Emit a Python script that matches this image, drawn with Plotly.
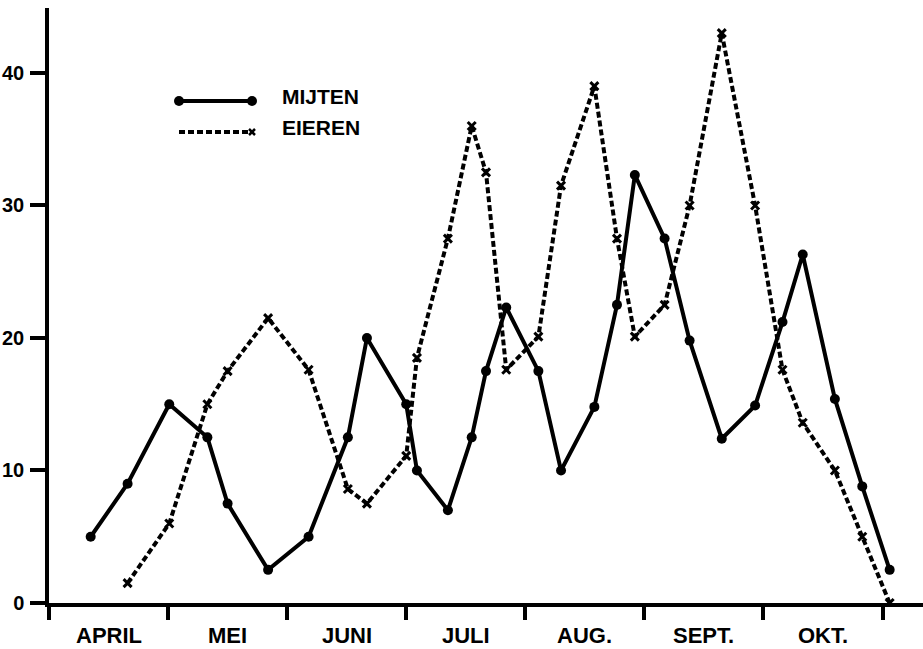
import plotly.graph_objects as go

# Sampling dates expressed in months after 1 April (April = 0..1, May = 1..2, ...)
sample_month = [0.35, 0.66, 1.01, 1.33, 1.50, 1.84, 2.18, 2.51, 2.67, 3.00,
                3.09, 3.35, 3.55, 3.67, 3.84, 4.11, 4.30, 4.58, 4.77, 4.92,
                5.17, 5.38, 5.65, 5.93, 6.16, 6.33, 6.60, 6.83, 7.06]

mijten = [5.0, 9.0, 15.0, 12.5, 7.5, 2.5, 5.0, 12.5, 20.0, 15.0,
          10.0, 7.0, 12.5, 17.5, 22.3, 17.5, 10.0, 14.8, 22.5, 32.3,
          27.5, 19.8, 12.4, 14.9, 21.2, 26.3, 15.4, 8.8, 2.5]

eieren = [None, 1.5, 6.0, 15.0, 17.5, 21.5, 17.6, 8.6, 7.5, 11.1,
          18.5, 27.5, 36.0, 32.5, 17.6, 20.1, 31.5, 39.0, 27.5, 20.1,
          22.5, 30.0, 43.0, 30.0, 17.6, 13.6, 10.0, 5.0, 0.0]

months = ["APRIL", "MEI", "JUNI", "JULI", "AUG.", "SEPT.", "OKT."]
month_bounds = [0, 1, 2, 3, 4, 5, 6, 7]
y_ticks = [0, 10, 20, 30, 40]

FONT = "Liberation Sans, Arial, sans-serif"
W, H = 923, 649
L, R, T, B = 49, 0, 8, 46

fig = go.Figure()

fig.add_trace(go.Scatter(
    x=sample_month, y=mijten, mode="lines+markers", name="MIJTEN",
    line=dict(color="black", width=4),
    marker=dict(symbol="circle", size=10, color="black"),
))

fig.add_trace(go.Scatter(
    x=sample_month, y=eieren, mode="lines+markers", name="EIEREN",
    line=dict(color="black", width=4, dash="6px,3px"),
    marker=dict(symbol="x-thin", size=8, line=dict(color="black", width=3)),
))

# month names centred between the month boundary ticks
for i, m in enumerate(months):
    fig.add_annotation(
        x=i + 0.5, y=0, xref="x", yref="paper", yshift=-32,
        text=m, showarrow=False, yanchor="middle", xanchor="center",
        font=dict(family=FONT, size=22, color="black", weight="bold"),
    )

# hand-drawn legend in the upper left
pw, ph = W - L - R, H - T - B


def px(xp):
    return (xp - L) / pw


def py(yp):
    return (H - B - yp) / ph


fig.add_shape(type="line", xref="paper", yref="paper",
              x0=px(179), x1=px(252), y0=py(101), y1=py(101),
              line=dict(color="black", width=4))
for cx in (179, 252):
    fig.add_shape(type="circle", xref="paper", yref="paper",
                  x0=px(cx - 5), x1=px(cx + 5),
                  y0=py(101 - 5), y1=py(101 + 5),
                  fillcolor="black", line=dict(color="black", width=0))
fig.add_shape(type="line", xref="paper", yref="paper",
              x0=px(179), x1=px(248), y0=py(132), y1=py(132),
              line=dict(color="black", width=4, dash="6px,3px"))
for dx0, dy0, dx1, dy1 in ((-3, -3, 3, 3), (-3, 3, 3, -3)):
    fig.add_shape(type="line", xref="paper", yref="paper",
                  x0=px(252 + dx0), x1=px(252 + dx1),
                  y0=py(132 + dy0), y1=py(132 + dy1),
                  line=dict(color="black", width=2.5))
for label, yy in (("MIJTEN", 96), ("EIEREN", 128)):
    fig.add_annotation(
        x=px(280), y=py(yy), xref="paper", yref="paper",
        text=label, showarrow=False, xanchor="left", yanchor="middle",
        font=dict(family=FONT, size=21, color="black", weight="bold"),
    )

fig.update_layout(
    width=W, height=H,
    margin=dict(l=L, r=R, t=T, b=B),
    paper_bgcolor="white", plot_bgcolor="white",
    showlegend=False,
    font=dict(family=FONT, size=20, color="black"),
    xaxis=dict(
        range=[0, 7.34], tickmode="array", tickvals=month_bounds,
        showticklabels=False, ticks="outside", ticklen=13, tickwidth=3.5,
        tickcolor="black", showline=True, linewidth=3.5, linecolor="black",
        showgrid=False, zeroline=False,
    ),
    yaxis=dict(
        range=[0, 44.9], tickmode="array", tickvals=y_ticks,
        ticks="outside", ticklen=15, tickwidth=3.5, tickcolor="black",
        showline=True, linewidth=3.5, linecolor="black",
        showgrid=False, zeroline=False, ticklabelstandoff=2,
        tickfont=dict(family=FONT, size=20, color="black", weight="bold"),
    ),
)

fig.write_html("out.html")
